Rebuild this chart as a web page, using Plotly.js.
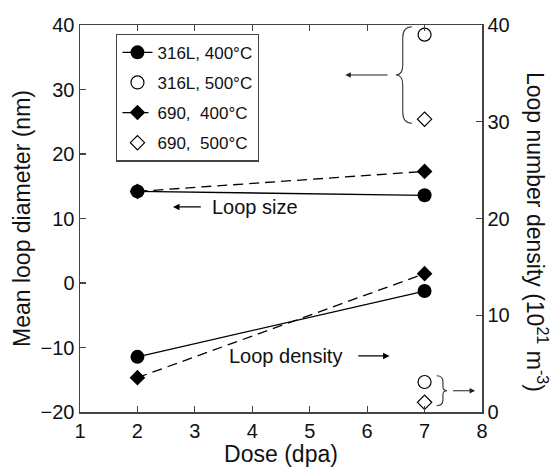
<!DOCTYPE html>
<html>
<head>
<meta charset="utf-8">
<script src="https://cdn.plot.ly/plotly-3.0.1.min.js"></script>
<style>html,body{margin:0;padding:0;background:#fff;}#chart{width:553px;height:467px;}</style>
</head>
<body>
<div id="chart"></div>
<script>
// Data
const doses = [2, 7];
const dose500 = [7];
const diam316L_400 = [14.2, 13.6];
const diam690_400 = [14.2, 17.3];
const diam316L_500 = [38.5];
const diam690_500 = [25.4];
const dens316L_400 = [5.7, 12.5];
const dens690_400 = [3.55, 14.3];
const dens316L_500 = [3.1];
const dens690_500 = [1.0];
const names = ["316L, 400°C", "316L, 500°C", "690,  400°C", "690,  500°C"];
const xTicks = [1, 2, 3, 4, 5, 6, 7, 8];
const yTicks = [-20, -10, 0, 10, 20, 30, 40];
const y2Ticks = [0, 10, 20, 30, 40];

const F = "Liberation Sans, Arial, sans-serif";
const blk = "#000";
const dash = "10px,6px";

const traces = [
  {x: doses, y: diam690_400, mode: "lines+markers", name: names[2], legendrank: 3, legendgroup: "c",
   line: {color: blk, width: 1.3, dash: dash}, marker: {symbol: "diamond", size: 12, color: blk}},
  {x: doses, y: dens690_400, yaxis: "y2", mode: "lines+markers", showlegend: false, legendgroup: "c",
   line: {color: blk, width: 1.3, dash: dash}, marker: {symbol: "diamond", size: 12, color: blk}},
  {x: dose500, y: diam690_500, mode: "markers", name: names[3], legendrank: 4, legendgroup: "d",
   marker: {symbol: "diamond-open", size: 11, color: blk, line: {width: 1.2}}},
  {x: dose500, y: dens690_500, yaxis: "y2", mode: "markers", showlegend: false, legendgroup: "d",
   marker: {symbol: "diamond-open", size: 11, color: blk, line: {width: 1.2}}},
  {x: doses, y: diam316L_400, mode: "lines+markers", name: names[0], legendrank: 1, legendgroup: "a",
   line: {color: blk, width: 1.3}, marker: {symbol: "circle", size: 14, color: blk}},
  {x: doses, y: dens316L_400, yaxis: "y2", mode: "lines+markers", showlegend: false, legendgroup: "a",
   line: {color: blk, width: 1.3}, marker: {symbol: "circle", size: 14, color: blk}},
  {x: dose500, y: diam316L_500, mode: "markers", name: names[1], legendrank: 2, legendgroup: "b",
   marker: {symbol: "circle-open", size: 13, color: blk, line: {width: 1.2}}},
  {x: dose500, y: dens316L_500, yaxis: "y2", mode: "markers", showlegend: false, legendgroup: "b",
   marker: {symbol: "circle-open", size: 13, color: blk, line: {width: 1.2}}}
];

const axCol = "#444";
const layout = {
  width: 553, height: 467,
  margin: {l: 80, r: 71, t: 25, b: 55},
  paper_bgcolor: "#fff", plot_bgcolor: "#fff",
  font: {family: F, color: "#111", size: 20},
  showlegend: true,
  legend: {x: 0.09, y: 0.978, xanchor: "left", yanchor: "top",
    bordercolor: axCol, borderwidth: 1.3, bgcolor: "#fff", traceorder: "grouped",
    font: {family: F, size: 17, color: "#111"}, tracegroupgap: 5, itemwidth: 30},
  xaxis: {range: [1, 8], tickvals: xTicks, ticks: "inside", ticklen: 6, tickwidth: 1.2,
    tickcolor: axCol, showline: true, linecolor: axCol, linewidth: 1.5, mirror: "ticks",
    showgrid: false, zeroline: false, tickfont: {size: 20},
    title: {text: "Dose (dpa)", font: {size: 23}, standoff: 2}},
  yaxis: {range: [-20, 40], tickvals: yTicks, ticks: "inside", ticklen: 6, tickwidth: 1.2,
    tickcolor: axCol, showline: true, linecolor: axCol, linewidth: 1.5,
    showgrid: false, zeroline: false, tickfont: {size: 20},
    title: {text: "Mean loop diameter (nm)", font: {size: 23}, standoff: 3}},
  yaxis2: {range: [0, 40], tickvals: y2Ticks, overlaying: "y", side: "right",
    ticks: "inside", ticklen: 6, tickwidth: 1.2, tickcolor: axCol,
    showline: true, linecolor: axCol, linewidth: 1.5, showgrid: false, zeroline: false,
    tickfont: {size: 20}},
  shapes: [
    {type: "path", xref: "x", yref: "y", line: {color: "#333", width: 1.1},
     path: "M 6.78,39.74 Q 6.62,39.74 6.62,38.0 L 6.62,33.8 Q 6.62,32.25 6.50,32.25 Q 6.62,32.25 6.62,30.7 L 6.62,26.5 Q 6.62,24.76 6.78,24.76"},
    {type: "path", xref: "x", yref: "y", line: {color: "#333", width: 1.1},
     path: "M 7.21,-14.37 Q 7.32,-14.37 7.32,-15.3 L 7.32,-16.1 Q 7.32,-16.7 7.39,-16.7 Q 7.32,-16.7 7.32,-17.3 L 7.32,-18.1 Q 7.32,-19.02 7.21,-19.02"}
  ],
  annotations: [
    {xref: "paper", yref: "paper", x: 1.137, y: 0.465, xanchor: "center", yanchor: "middle",
     text: "Loop number density (10<sup>21</sup> m<sup>-3</sup>)",
     textangle: 90, showarrow: false, font: {size: 23, family: F, color: "#111"}},
    // Loop size
    {xref: "x", yref: "y", x: 2.62, y: 11.8, ax: 3.13, ay: 11.8, axref: "x", ayref: "y",
     text: "", showarrow: true, arrowhead: 2, arrowsize: 1, arrowwidth: 1.3, arrowcolor: blk, standoff: 0},
    {xref: "x", yref: "y", x: 3.27, y: 11.8, xanchor: "left", text: "Loop size", showarrow: false,
     font: {size: 20, family: F, color: "#111"}},
    // Loop density
    {xref: "x", yref: "y", x: 6.39, y: -11.3, ax: 5.82, ay: -11.3, axref: "x", ayref: "y",
     text: "", showarrow: true, arrowhead: 2, arrowsize: 1, arrowwidth: 1.3, arrowcolor: blk, standoff: 0},
    {xref: "x", yref: "y", x: 3.56, y: -11.3, xanchor: "left", text: "Loop density", showarrow: false,
     font: {size: 20, family: F, color: "#111"}},
    // top brace arrow
    {xref: "x", yref: "y", x: 5.62, y: 32.25, ax: 6.38, ay: 32.25, axref: "x", ayref: "y",
     text: "", showarrow: true, arrowhead: 2, arrowsize: 1, arrowwidth: 1.1, arrowcolor: "#222", standoff: 0},
    // bottom brace arrow
    {xref: "x", yref: "y", x: 7.88, y: -16.7, ax: 7.47, ay: -16.7, axref: "x", ayref: "y",
     text: "", showarrow: true, arrowhead: 2, arrowsize: 1, arrowwidth: 1.1, arrowcolor: "#222", standoff: 0}
  ]
};

Plotly.newPlot("chart", traces, layout, {displayModeBar: false, staticPlot: true});
</script>
</body>
</html>
